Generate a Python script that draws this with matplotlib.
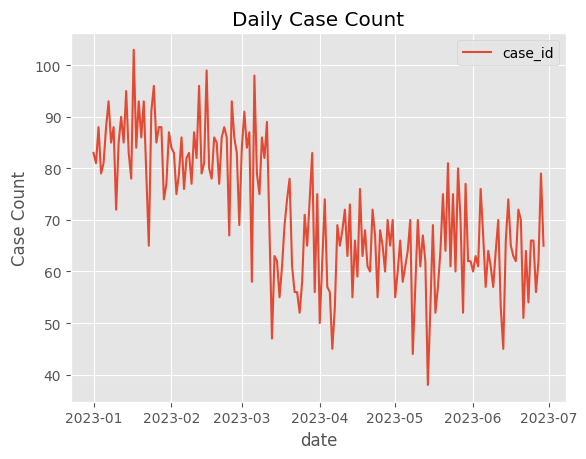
import matplotlib
matplotlib.use("Agg")
import matplotlib.pyplot as plt
import pandas as pd

plt.style.use("ggplot")

start_date = "2023-01-01"
case_counts = [
    # January
    83, 81, 88, 79, 81, 88, 93, 85, 88, 72, 85, 90, 85, 95, 83, 78, 103, 84, 93, 86,
    93, 79, 65, 91, 96, 85, 88, 88, 74, 77, 87,
    # February
    84, 83, 75, 79, 86, 76, 82, 83, 77, 87, 82, 96, 79, 81, 99, 80, 78, 86, 85, 77,
    86, 88, 86, 67, 93, 86, 83, 69,
    # March
    84, 91, 84, 87, 58, 98, 79, 75, 86, 82, 89, 68, 47, 63, 62, 55, 61, 69, 74, 78,
    61, 56, 56, 52, 58, 71, 65, 74, 83, 56, 75,
    # April
    50, 62, 74, 57, 56, 45, 53, 69, 65, 68, 72, 63, 73, 55, 66, 59, 76, 63, 68, 61,
    60, 72, 67, 55, 68, 65, 60, 70, 65, 70,
    # May
    55, 60, 66, 58, 61, 64, 70, 44, 57, 70, 61, 67, 62, 38, 53, 69, 52, 57, 64, 75,
    64, 81, 61, 75, 60, 80, 70, 52, 77, 62, 62,
    # June
    60, 63, 61, 76, 67, 57, 64, 61, 57, 64, 70, 53, 45, 66, 74, 65, 63, 62, 72, 70,
    51, 64, 54, 66, 66, 56, 62, 79, 65,
]
dates = pd.date_range(start_date, periods=len(case_counts), freq="D")
series_label = "case_id"
title = "Daily Case Count"
x_label = "date"
y_label = "Case Count"

fig = plt.figure(figsize=(5.86, 4.6), dpi=100)
ax = fig.add_axes([71 / 586, 1 - 402.7 / 460, 495 / 586, 368.7 / 460])
ax.plot(dates, case_counts, label=series_label)
ax.set_title(title)
ax.set_xlabel(x_label)
ax.set_ylabel(y_label)
ax.legend(loc="upper right")
fig.savefig("out.png", dpi=100)
